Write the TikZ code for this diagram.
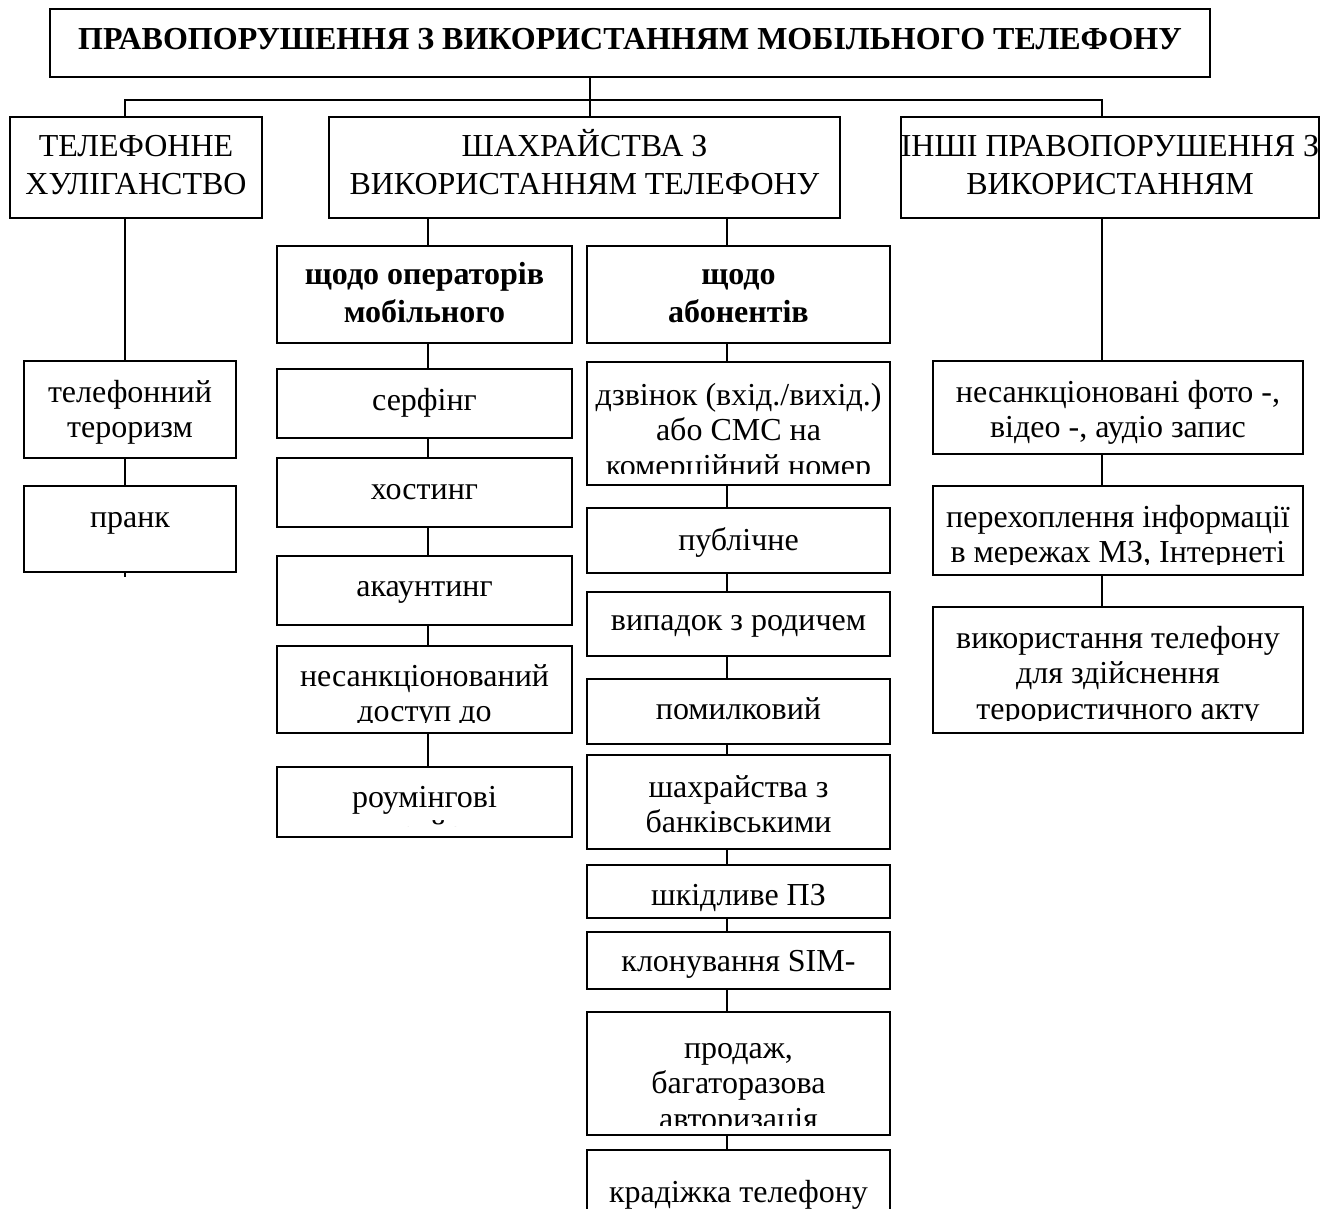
\documentclass[tikz,border=0pt]{standalone}
\usepackage{fontspec}
\setmainfont{Liberation Serif}
\tikzset{
 boxst/.style={draw, line width=2.2pt, inner sep=0pt, outer sep=0pt, rectangle},
 txt/.style={anchor=base, inner sep=0pt, font=\fontsize{32}{35.5}\selectfont},
 txtb/.style={anchor=base, inner sep=0pt, font=\fontsize{32}{37}\selectfont\bfseries},
 toptxt/.style={anchor=base, inner sep=0pt, font=\fontsize{32}{38}\selectfont},
 conn/.style={line width=1.8pt},
}
% centered lines separated by \cr; baseline = first line
\newcommand\mylines[1]{\vtop{\halign{\hfil##\hfil\cr#1\crcr}}}
% #1 bottom inset of text clip, #2 name, #3 x1, #4 y1, #5 x2, #6 y2, #7 first baseline, #8 style, #9 text
\newcommand\mybox[9][10]{%
  \node[boxst, minimum width={(#5-#3)*1pt}, minimum height={(#6-#4)*1pt}] (#2) at ({(#3+#5)/2},{(#4+#6)/2}) {};
  \begin{scope}
    \clip (#3,#4) rectangle (#5,{#6-#1});
    \node[#8] at ({(#3+#5)/2},#7) {\mylines{#9}};
  \end{scope}}
\begin{document}
\begin{tikzpicture}[x=1pt,y=-1pt]
\useasboundingbox[fill=white] (0,0) rectangle (1326,1209);

% top
\mybox{title}{50}{9}{1210}{77}{50}{txtb}{ПРАВОПОРУШЕННЯ З ВИКОРИСТАННЯМ МОБІЛЬНОГО ТЕЛЕФОНУ}
\mybox{hul}{10}{117}{262}{218}{157}{toptxt}{ТЕЛЕФОННЕ\cr ХУЛІГАНСТВО}
\mybox{shah}{329}{117}{840}{218}{157}{toptxt}{ШАХРАЙСТВА З\cr ВИКОРИСТАННЯМ ТЕЛЕФОНУ}
\mybox{inshi}{901}{117}{1319}{218}{157}{toptxt}{ІНШІ ПРАВОПОРУШЕННЯ З\cr ВИКОРИСТАННЯМ}

% left column
\mybox{ter}{24}{361}{236}{458}{402}{txt}{телефонний\cr тероризм}
\mybox{prank}{24}{486}{236}{572}{527}{txt}{пранк}

% column A
\mybox{oper}{277}{246}{572}{343}{285}{txtb}{щодо операторів\cr мобільного}
\mybox{serf}{277}{369}{572}{438}{410}{txt}{серфінг}
\mybox{host}{277}{458}{572}{527}{499}{txt}{хостинг}
\mybox{akaunt}{277}{556}{572}{625}{596}{txt}{акаунтинг}
\mybox[11]{dostup}{277}{646}{572}{733}{686}{txt}{несанкціонований\cr доступ до}
\mybox[11]{roum}{277}{767}{572}{837}{807}{txt}{роумінгові\cr шахрайства}

% column B
\mybox{abon}{587}{246}{890}{343}{285}{txtb}{щодо\cr абонентів}
\mybox[12]{dzv}{587}{362}{890}{485}{405}{txt}{дзвінок (вхід./вихід.)\cr або СМС на\cr комерційний номер}
\mybox{publ}{587}{508}{890}{573}{550}{txt}{публічне}
\mybox{vyp}{587}{592}{890}{656}{630}{txt}{випадок з родичем}
\mybox{pom}{587}{679}{890}{744}{719}{txt}{помилковий}
\mybox{bank}{587}{755}{890}{849}{797}{txt}{шахрайства з\cr банківськими}
\mybox[2]{pz}{587}{865}{890}{918}{905}{txt}{шкідливе ПЗ}
\mybox{sim}{587}{932}{890}{989}{971}{txt}{клонування SIM-}
\mybox[10]{prod}{587}{1012}{890}{1135}{1058}{txt}{продаж,\cr багаторазова\cr авторизація}
\mybox{kradizh}{587}{1150}{890}{1260}{1202}{txt}{крадіжка телефону}

% column C
\mybox{foto}{933}{361}{1303}{454}{402}{txt}{несанкціоновані фото -,\cr відео -, аудіо запис}
\mybox[11]{perekh}{933}{486}{1303}{575}{527}{txt}{перехоплення інформації\cr в мережах МЗ, Інтернеті}
\mybox[13]{vykor}{933}{607}{1303}{733}{648}{txt}{використання телефону\cr для здійснення\cr терористичного акту}

% connector guides
\coordinate (hub) at (590,100);
\coordinate (cL) at (125,0);
\coordinate (cA) at (428,0);
\coordinate (cB) at (727,0);
\coordinate (cC) at (1102,0);
\coordinate (stub) at (125,577);

\draw[conn] (title.south -| hub) -- (hub);
\draw[conn] (hul.north -| cL) |- (hub) -| (inshi.north -| cC);
\draw[conn] (hub) -- (shah.north -| hub);

\draw[conn] (hul.south -| cL) -- (ter.north -| cL);
\draw[conn] (ter.south -| cL) -- (prank.north -| cL);
\draw[conn] (prank.south -| cL) -- (stub);

\draw[conn] (shah.south -| cA) -- (oper.north -| cA);
\draw[conn] (shah.south -| cB) -- (abon.north -| cB);
\foreach \a/\b in {oper/serf, serf/host, host/akaunt, akaunt/dostup, dostup/roum}
  \draw[conn] (\a.south -| cA) -- (\b.north -| cA);
\foreach \a/\b in {abon/dzv, dzv/publ, publ/vyp, vyp/pom, pom/bank, bank/pz, pz/sim, sim/prod, prod/kradizh}
  \draw[conn] (\a.south -| cB) -- (\b.north -| cB);

\draw[conn] (inshi.south -| cC) -- (foto.north -| cC);
\foreach \a/\b in {foto/perekh, perekh/vykor}
  \draw[conn] (\a.south -| cC) -- (\b.north -| cC);
\end{tikzpicture}
\end{document}
